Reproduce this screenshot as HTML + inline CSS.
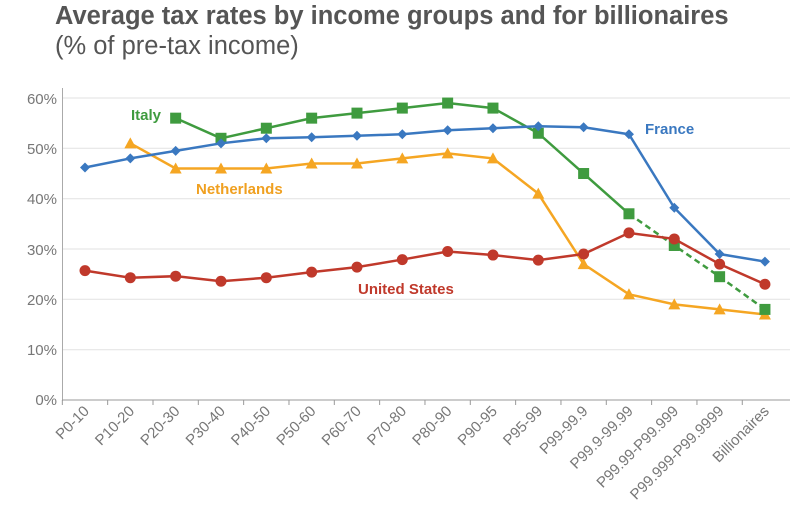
<!DOCTYPE html>
<html><head><meta charset="utf-8"><style>
body{margin:0;background:#fff;width:800px;height:525px;overflow:hidden;font-family:"Liberation Sans",sans-serif}
</style></head><body>
<svg width="800" height="525" xmlns="http://www.w3.org/2000/svg" font-family="Liberation Sans, sans-serif">
<text x="55" y="24" font-size="25.5" font-weight="bold" fill="#555">Average tax rates by income groups and for billionaires</text>
<text x="55" y="54" font-size="25.5" fill="#555">(% of pre-tax income)</text>
<g stroke="#e2e2e2" stroke-width="1">
<line x1="63" x2="790" y1="98" y2="98"/><line x1="63" x2="790" y1="148.3" y2="148.3"/><line x1="63" x2="790" y1="198.7" y2="198.7"/><line x1="63" x2="790" y1="249" y2="249"/><line x1="63" x2="790" y1="299.3" y2="299.3"/><line x1="63" x2="790" y1="349.7" y2="349.7"/>
</g>
<line x1="62.5" x2="62.5" y1="88" y2="401" stroke="#aaa"/>
<line x1="62" x2="790" y1="400" y2="400" stroke="#999"/>
<g font-size="15" fill="#777" text-anchor="end">
<text x="57" y="104">60%</text><text x="57" y="154">50%</text><text x="57" y="204">40%</text><text x="57" y="255">30%</text><text x="57" y="305">20%</text><text x="57" y="355">10%</text><text x="57" y="405">0%</text>
</g>
<g id="ticks" font-size="15" fill="#777" text-anchor="end"></g>
<g id="series"></g>
<text x="131" y="120" font-size="15" font-weight="bold" fill="#3f9b3f">Italy</text>
<text x="645" y="134" font-size="15" font-weight="bold" fill="#3a78c0">France</text>
<text x="196" y="194" font-size="15" font-weight="bold" fill="#f0a020">Netherlands</text>
<text x="358" y="294" font-size="15" font-weight="bold" fill="#c0392b">United States</text>
</svg>
<script>
const cats=["P0-10","P10-20","P20-30","P30-40","P40-50","P50-60","P60-70","P70-80","P80-90","P90-95","P95-99","P99-99.9","P99.9-99.99","P99.99-P99.999","P99.999-P99.9999","Billionaires"];
const X=i=>85+i*45.33, Y=v=>400-v*5.033;
const NS="http://www.w3.org/2000/svg";
const tk=document.getElementById("ticks"), sr=document.getElementById("series");
cats.forEach((c,i)=>{const t=document.createElementNS(NS,"text");t.setAttribute("transform",`translate(${X(i)+5},${412}) rotate(-45)`);t.textContent=c;tk.appendChild(t);
const l=document.createElementNS(NS,"line");const bx=X(i)-22.67;l.setAttribute("x1",bx);l.setAttribute("x2",bx);l.setAttribute("y1",400);l.setAttribute("y2",405);l.setAttribute("stroke","#999");tk.appendChild(l);});
function line(pts,col,dash){const p=document.createElementNS(NS,"polyline");p.setAttribute("points",pts.map(([i,v])=>X(i)+","+Y(v)).join(" "));p.setAttribute("fill","none");p.setAttribute("stroke",col);p.setAttribute("stroke-width","2.5");if(dash)p.setAttribute("stroke-dasharray","6,4");sr.appendChild(p);}
function mark(i,v,col,shape){let e;const x=X(i),y=Y(v);
if(shape=="c"){e=document.createElementNS(NS,"circle");e.setAttribute("cx",x);e.setAttribute("cy",y);e.setAttribute("r",5.5);}
else if(shape=="s"){e=document.createElementNS(NS,"rect");e.setAttribute("x",x-5.5);e.setAttribute("y",y-5.5);e.setAttribute("width",11);e.setAttribute("height",11);}
else if(shape=="d"){e=document.createElementNS(NS,"polygon");e.setAttribute("points",`${x},${y-5} ${x+5},${y} ${x},${y+5} ${x-5},${y}`);}
else {e=document.createElementNS(NS,"polygon");e.setAttribute("points",`${x},${y-6} ${x+6},${y+5} ${x-6},${y+5}`);}
e.setAttribute("fill",col);sr.appendChild(e);}
function series(start,vals,col,shape,dashFrom){const pts=vals.map((v,k)=>[start+k,v]);
if(dashFrom!=null){line(pts.filter(p=>p[0]<=dashFrom),col);line(pts.filter(p=>p[0]>=dashFrom),col,true);}else line(pts,col);
pts.forEach(p=>mark(p[0],p[1],col,shape));}
series(1,[51,46,46,46,47,47,48,49,48,41,27,21,19,18,17],"#f5a623","t");
series(2,[56,52,54,56,57,58,59,58,53,45,37,30.7,24.5,18],"#3f9b3f","s",12);
series(0,[25.7,24.3,24.6,23.6,24.3,25.4,26.4,27.9,29.5,28.8,27.8,29,33.2,32,27,23],"#c0392b","c");
series(0,[46.2,48,49.5,51,52,52.2,52.5,52.8,53.6,54,54.4,54.2,52.8,38.2,29,27.5],"#3a78c0","d");
</script>
</body></html>
